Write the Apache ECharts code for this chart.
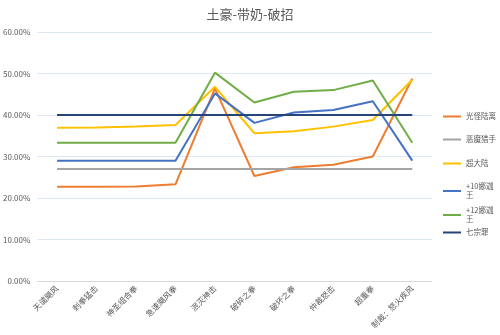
<!DOCTYPE html>
<html>
<head>
<meta charset="utf-8">
<script src="https://cdn.jsdelivr.net/npm/echarts@6/dist/echarts.min.js"></script>
<style>
  html, body { margin: 0; padding: 0; background: #fff; }
  #chart { width: 500px; height: 335px; }
</style>
</head>
<body>
<div id="chart"></div>
<script>
var categories = ['天谴飓风', '刺拳猛击', '神圣组合拳', '急速飓风拳', '泯灭神击', '破碎之拳', '破坏之拳', '仲裁怒击', '超重拳', '制裁：怒火疾风'];
var yTicks = [0, 10, 20, 30, 40, 50, 60];

var guangguai = [22.7, 22.7, 22.8, 23.3, 46.4, 25.3, 27.4, 28.0, 30.0, 48.8];
var emo = [27.0, 27.0, 27.0, 27.0, 27.0, 27.0, 27.0, 27.0, 27.0, 27.0];
var chaodalu = [36.9, 37.0, 37.2, 37.6, 46.8, 35.6, 36.1, 37.2, 38.8, 48.5];
var naga10 = [29.0, 29.0, 29.0, 29.0, 45.2, 38.1, 40.6, 41.2, 43.3, 29.0];
var naga12 = [33.3, 33.3, 33.3, 33.3, 50.2, 43.0, 45.6, 46.0, 48.3, 33.3];
var qizongzui = [40.0, 40.0, 40.0, 40.0, 40.0, 40.0, 40.0, 40.0, 40.0, 40.0];

var seriesList = [
    { name: '光怪陆离', data: guangguai, color: '#ED7D31' },
    { name: '恶魔猎手', data: emo, color: '#A5A5A5' },
    { name: '超大陆', data: chaodalu, color: '#FFC000' },
    { name: '+10娜迦王', data: naga10, color: '#4472C4' },
    { name: '+12娜迦王', data: naga12, color: '#70AD47' },
    { name: '七宗罪', data: qizongzui, color: '#264478' }
];

var font = '"Noto Sans CJK SC", "Noto Sans", sans-serif';

// one legend per item, so the wrapped names do not push the rest down
var legendTops = [107, 130, 154, 177, 201, 223];
var legends = seriesList.map(function (s, i) {
    return {
        orient: 'vertical',
        left: 438,
        top: legendTops[i],
        itemWidth: 18,
        itemHeight: 2,
        icon: 'rect',
        data: [s.name],
        formatter: function (name) { return name.replace('娜迦王', '娜迦\n王'); },
        textStyle: { fontSize: 7.5, color: '#595959', lineHeight: 9, fontFamily: font }
    };
});

var option = {
    animation: false,
    backgroundColor: '#fff',
    textStyle: { fontFamily: font },
    title: {
        text: '土豪-带奶-破招',
        left: 'center',
        top: 3,
        textStyle: { fontSize: 13, fontWeight: 'normal', color: '#595959', fontFamily: font }
    },
    legend: legends,
    grid: { left: 32, right: 68, top: 32, bottom: 54, containLabel: false },
    xAxis: {
        type: 'category',
        data: categories,
        boundaryGap: true,
        axisLine: { lineStyle: { color: '#D9D9D9' } },
        axisTick: { show: false },
        axisLabel: { rotate: 45, fontSize: 8, color: '#595959', margin: 6, interval: 0, fontFamily: font }
    },
    yAxis: {
        type: 'value',
        min: yTicks[0],
        max: yTicks[yTicks.length - 1],
        interval: 10,
        axisLine: { show: false },
        axisTick: { show: false },
        splitLine: { lineStyle: { color: '#DCE8F5' } },
        axisLabel: {
            fontSize: 8, color: '#595959', margin: 7, fontFamily: font,
            formatter: function (v) { return v.toFixed(2) + '%'; }
        }
    },
    series: seriesList.map(function (s) {
        return {
            name: s.name,
            type: 'line',
            data: s.data,
            showSymbol: false,
            symbol: 'none',
            color: s.color,
            lineStyle: { width: 2, color: s.color }
        };
    })
};

var chart = echarts.init(document.getElementById('chart'));
chart.setOption(option, true);
</script>
</body>
</html>
